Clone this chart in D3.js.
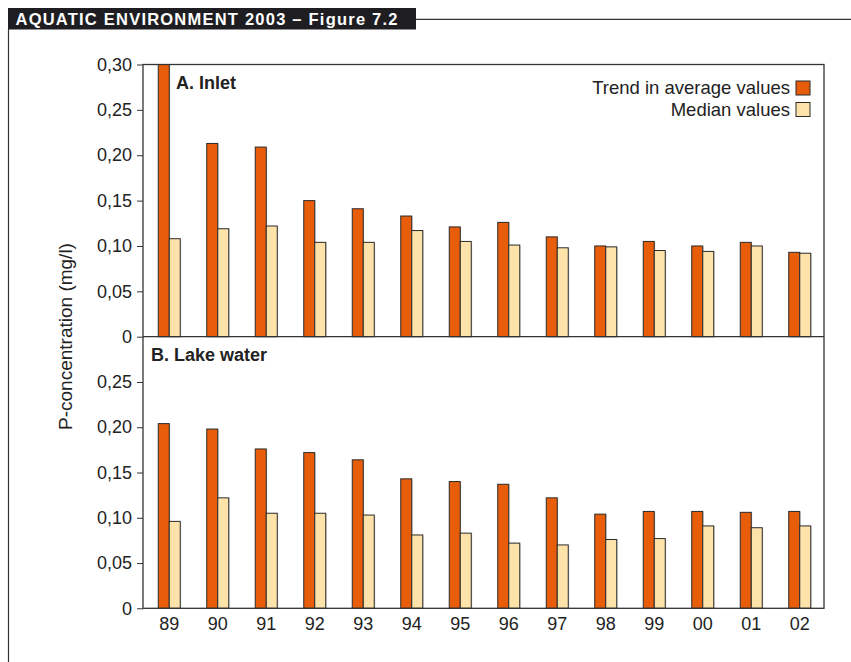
<!DOCTYPE html>
<html><head><meta charset="utf-8">
<script src="https://cdn.jsdelivr.net/npm/d3@7"></script>
<style>
html,body{margin:0;padding:0;background:#fff;}
svg{display:block;}
text{font-family:"Liberation Sans",Arial,sans-serif;fill:#222;}
</style></head>
<body><svg id="chart" width="851" height="662"></svg>
<script>
const years = ["89","90","91","92","93","94","95","96","97","98","99","00","01","02"];
const inletAverage = [0.300,0.213,0.209,0.150,0.141,0.133,0.121,0.126,0.110,0.100,0.105,0.100,0.104,0.093];
const inletMedian  = [0.108,0.119,0.122,0.104,0.104,0.117,0.105,0.101,0.098,0.099,0.095,0.094,0.100,0.092];
const lakeAverage  = [0.204,0.198,0.176,0.172,0.164,0.143,0.140,0.137,0.122,0.104,0.107,0.107,0.106,0.107];
const lakeMedian   = [0.096,0.122,0.105,0.105,0.103,0.081,0.083,0.072,0.070,0.076,0.077,0.091,0.089,0.091];
const topTicks = [0,0.05,0.10,0.15,0.20,0.25,0.30];
const bottomTicks = [0,0.05,0.10,0.15,0.20,0.25];
const seriesNames = ["Trend in average values","Median values"];
const panelTitles = ["A. Inlet","B. Lake water"];
const yLabel = "P-concentration (mg/l)";
const header = "AQUATIC ENVIRONMENT 2003 \u2013 Figure 7.2";

const colors = ["#E85D0A","#FDE3AA"];
const svg = d3.select("#chart");
const L = 143, R = 824;
const panels = [
  {top:64.5, bottom:336.7, ticks:topTicks, avg:inletAverage, med:inletMedian, title:panelTitles[0], tx:176, ty:89},
  {top:336.7, bottom:608.3, ticks:bottomTicks, avg:lakeAverage, med:lakeMedian, title:panelTitles[1], tx:151, ty:361}
];
const fmt = v => v===0 ? "0" : d3.format(".2f")(v).replace(".",",");

// header
svg.append("rect").attr("x",8).attr("y",8).attr("width",408).attr("height",21.5).attr("fill","#1e1e22");
svg.append("text").attr("x",15.5).attr("y",25).text(header)
  .attr("textLength",382).attr("lengthAdjust","spacing")
  .style("fill","#fff").style("font-weight","bold").style("font-size","16.5px");
svg.append("line").attr("x1",416).attr("x2",851).attr("y1",19.3).attr("y2",19.3).attr("stroke","#333").attr("stroke-width",1.2);
svg.append("line").attr("x1",8.5).attr("x2",8.5).attr("y1",29).attr("y2",662).attr("stroke","#333").attr("stroke-width",1.2);

const x = d3.scaleBand().domain(years).range([145,824]).paddingInner(0).paddingOuter(0);
const bw = 11;

panels.forEach((p,pi)=>{
  const y = d3.scaleLinear().domain([0,0.30]).range([p.bottom,p.top]);
  const g = svg.append("g");
  const ax = g.append("g").attr("transform",`translate(${L},0)`)
    .call(d3.axisLeft(y).tickValues(p.ticks).tickFormat(fmt).tickSize(6).tickPadding(5));
  ax.select(".domain").remove();
  ax.selectAll("line").attr("stroke","#333");
  ax.selectAll("text").style("font-size","18px").style("fill","#222").attr("font-family",null);
  years.forEach((yr,i)=>{
    const cx = x(yr)+x.bandwidth()/2;
    [p.avg[i],p.med[i]].forEach((v,s)=>{
      const bx = cx - bw + s*bw;
      g.append("rect").attr("x",bx+1).attr("y",y(v)+0.5).attr("width",bw).attr("height",p.bottom-y(v))
        .attr("fill","#bbb").attr("opacity",0.6);
      g.append("rect").attr("x",bx).attr("y",y(v)).attr("width",bw).attr("height",p.bottom-y(v))
        .attr("fill",colors[s]).attr("stroke","#2a2a2a").attr("stroke-width",1);
    });
  });
  g.append("text").attr("x",p.tx).attr("y",p.ty).text(p.title)
    .style("font-weight","bold").style("font-size","18px");
});

// frame
const frame = svg.append("g").attr("stroke","#333").attr("stroke-width",1.3).attr("fill","none");
frame.append("rect").attr("x",L).attr("y",64.5).attr("width",R-L).attr("height",608.3-64.5);
frame.append("line").attr("x1",L).attr("x2",R).attr("y1",336.7).attr("y2",336.7);

// x axis labels
const xa = svg.append("g").attr("transform","translate(0,608.3)")
  .call(d3.axisBottom(x).tickSize(0).tickPadding(9));
xa.select(".domain").remove();
xa.selectAll("text").style("font-size","18px").style("fill","#222").attr("font-family",null);

// y label
svg.append("text").attr("transform","translate(72,336.5) rotate(-90)").attr("text-anchor","middle")
  .style("font-size","19px").text(yLabel);

// legend
seriesNames.forEach((n,i)=>{
  const ly = 81 + i*21.5;
  svg.append("rect").attr("x",796).attr("y",ly).attr("width",14).attr("height",14)
    .attr("fill",colors[i]).attr("stroke","#2a2a2a").attr("stroke-width",1);
  svg.append("text").attr("x",790).attr("y",ly+13).attr("text-anchor","end")
    .style("font-size","18.5px").text(n);
});
</script></body></html>
